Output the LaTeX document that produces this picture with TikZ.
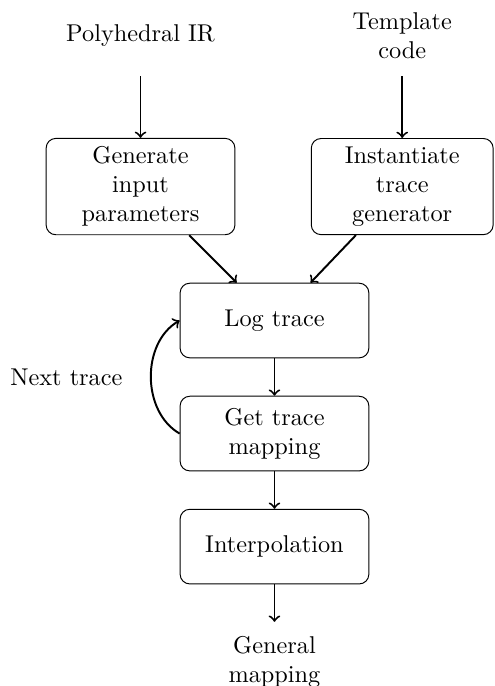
\documentclass[tikz,border=0pt]{standalone}
\usetikzlibrary{arrows}
\tikzstyle{process} = [rectangle,
	rounded corners,
	minimum width=2.73cm,
	minimum height=1.08cm,
	text centered,
	text width=2.1cm,
	draw=black
	]
\tikzstyle{io} = [rectangle,
	minimum height=1.15cm,
	align=center
	]
\tikzstyle{arrow} = [thick,->,>=to]

\begin{document}
\begin{tikzpicture}[node distance=1.635cm]
\useasboundingbox (-3.97,-5.286) rectangle (3.175,4.636);

\node (log) [process] {Log trace};
\node (gtm) [process, below of=log] {Get trace mapping};
\node (interp) [process, below of=gtm] {Interpolation};
\node (gmap) [io, node distance=1.67cm, below of=interp] {General\\mapping};

\node (gen) [process, node distance=2.74cm, above left of=log] {Generate input parameters};
\node (inst) [process, minimum width=2.63cm, node distance=3.785cm, right of=gen] {Instantiate trace generator};

\node (poly) [io, node distance=2.18cm, above of=gen] {Polyhedral IR};
\node (tmpl) [io, node distance=2.18cm, above of=inst] {Template\\code};

\draw [arrow] (poly) -- (gen);
\draw [arrow] (tmpl) -- (inst);

\draw [arrow] (gen) -- (log);
\draw [arrow] (inst) -- (log);

\draw [arrow] (log) -- (gtm);
\draw [arrow] (gtm) -- (interp);
\draw [arrow] (interp) -- (gmap);

\draw [arrow] (gtm.west) to [bend left=60] node [left=8pt] (next) {Next trace} (log.west);

\end{tikzpicture}
\end{document}
